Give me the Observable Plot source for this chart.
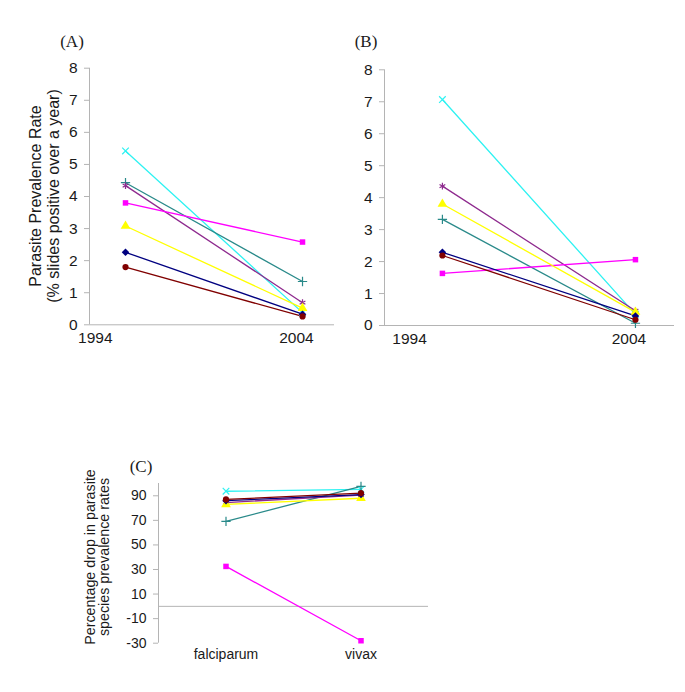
<!DOCTYPE html>
<html>
<head>
<meta charset="utf-8">
<script src="https://cdn.jsdelivr.net/npm/d3@7"></script>
<script src="https://cdn.jsdelivr.net/npm/@observablehq/plot@0.6"></script>
<style>
  html, body { margin: 0; padding: 0; background: #fff; }
  #wrap { position: relative; width: 685px; height: 692px; overflow: hidden; }
  #wrap svg { position: absolute; overflow: visible; }
</style>
</head>
<body>
<div id="wrap"></div>
<script>
// ---- data ----
const seriesKeys = ["cyan", "teal", "purple", "magenta", "yellow", "blue", "darkred"];
const seriesColors = ["#2ef2f2", "#2a8a8a", "#8e2a8e", "#ff00ff", "#ffff00", "#000080", "#800000"];
const seriesSymbols = ["times", "plus", "asterisk", "square", "triangle", "diamond2", "circle"];
const seriesFilled = [false, false, false, true, true, true, true];

const years = [1995.5, 2004.3];
const yearTicks = [1994, 2004];

// Panel A (falciparum prevalence)
const prevA1995 = [5.42, 4.43, 4.34, 3.80, 3.08, 2.26, 1.80];
const prevA2004 = [0.38, 1.35, 0.69, 2.58, 0.52, 0.33, 0.26];
// Panel B (vivax prevalence)
const prevB1995 = [7.07, 3.32, 4.36, 1.63, 3.80, 2.29, 2.19];
const prevB2004 = [0.35, 0.07, 0.46, 2.06, 0.42, 0.30, 0.18];
// Panel C (percentage drop)
const species = ["falciparum", "vivax"];
const dropFalciparum = [93.7, 69.2, 84.5, 32.5, 83.0, 86.0, 87.0];
const dropVivax = [95.2, 97.7, 90.5, -28.0, 88.0, 91.0, 92.2];

const yTicksAB = [0, 1, 2, 3, 4, 5, 6, 7, 8];
const yTicksC = [-30, -10, 10, 30, 50, 70, 90];

const FONT = "'Liberation Sans', Arial, sans-serif";
const SERIF = "'Liberation Serif', 'Times New Roman', serif";
const AXIS_GRAY = "#b4b4b4";
const TEXT = "#1a1a1a";

function seriesMarks(rows) {
  const marks = [];
  seriesKeys.forEach((k, i) => {
    const d = rows.filter(r => r.s === k);
    marks.push(Plot.line(d, {x: "x", y: "y", stroke: seriesColors[i], strokeWidth: 1.3}));
  });
  seriesKeys.forEach((k, i) => {
    const d = rows.filter(r => r.s === k);
    if (seriesFilled[i]) {
      const sym = seriesSymbols[i];
      marks.push(Plot.dot(d, {x: "x", y: "y", symbol: () => sym, fill: seriesColors[i], stroke: "none",
        r: sym === "triangle" ? 3.6 : sym === "diamond2" ? 3.4 : 3.1}));
    } else {
      marks.push(Plot.dot(d, {x: "x", y: "y", symbol: () => seriesSymbols[i], stroke: seriesColors[i], fill: "none", strokeWidth: 1.2, r: 3.1}));
    }
  });
  return marks;
}

function prevRows(v1995, v2004) {
  const rows = [];
  seriesKeys.forEach((k, i) => {
    rows.push({s: k, x: years[0], y: v1995[i]});
    rows.push({s: k, x: years[1], y: v2004[i]});
  });
  return rows;
}

function prevPanel({width, height, marginLeft, marginRight, marginTop, marginBottom, xDomain, rows}) {
  return Plot.plot({
    width, height, marginLeft, marginRight, marginTop, marginBottom,
    style: {fontFamily: FONT, fontSize: "15.5px", color: TEXT, background: "transparent"},
    x: {domain: xDomain, axis: null},
    y: {domain: [0, 8], axis: null},
    marks: [
      Plot.ruleY([0], {stroke: AXIS_GRAY, strokeWidth: 1}),
      Plot.ruleX([xDomain[0]], {stroke: AXIS_GRAY, strokeWidth: 1}),
      Plot.axisY({ticks: yTicksAB, tickSize: 5, tickPadding: 7, stroke: AXIS_GRAY, fill: TEXT, fontSize: 15.5, tickFormat: d => String(d), label: null}),
      Plot.axisX({ticks: yearTicks, tickSize: 0, tickPadding: 7, tickFormat: d => String(d), fill: TEXT, fontSize: 15.5, label: null}),
      ...seriesMarks(rows)
    ]
  });
}

const wrap = document.getElementById("wrap");

// Panel A
const svgA = prevPanel({
  width: 340, height: 350, marginLeft: 89, marginRight: 6, marginTop: 67.7, marginBottom: 25.7,
  xDomain: [1993.71, 2005.89], rows: prevRows(prevA1995, prevA2004)
});
svgA.style.left = "0px"; svgA.style.top = "0px";
wrap.appendChild(svgA);

// Panel B
const svgB = prevPanel({
  width: 345, height: 350, marginLeft: 44, marginRight: 11, marginTop: 69.3, marginBottom: 25,
  xDomain: [1992.86, 2006.08], rows: prevRows(prevB1995, prevB2004)
});
svgB.style.left = "340px"; svgB.style.top = "0px";
wrap.appendChild(svgB);

// Panel C
const rowsC = [];
seriesKeys.forEach((k, i) => {
  rowsC.push({s: k, x: 0, y: dropFalciparum[i]});
  rowsC.push({s: k, x: 1, y: dropVivax[i]});
});
const svgC = Plot.plot({
  width: 450, height: 250, marginLeft: 158, marginRight: 22, marginTop: 43, marginBottom: 47.3,
  style: {fontFamily: FONT, fontSize: "14px", color: TEXT, background: "transparent"},
  x: {domain: [-0.5, 1.5], axis: null},
  y: {domain: [-30, 100], axis: null},
  marks: [
    Plot.ruleY([0], {stroke: AXIS_GRAY, strokeWidth: 1}),
    Plot.ruleX([-0.5], {stroke: AXIS_GRAY, strokeWidth: 1}),
    Plot.axisY({ticks: yTicksC, tickSize: 5, tickPadding: 7, stroke: AXIS_GRAY, fill: TEXT, fontSize: 14, tickFormat: d => String(d), label: null}),
    Plot.axisX({ticks: [0, 1], tickSize: 0, tickPadding: 6, tickFormat: i => species[i], fill: TEXT, fontSize: 14, label: null}),
    ...seriesMarks(rowsC)
  ]
});
svgC.style.left = "0px"; svgC.style.top = "440px";
wrap.appendChild(svgC);

// ---- labels ----
function addText(svg, x, y, lines, {size, family, rotate = 0, anchor = "middle", lineGap}) {
  const g = d3.select(svg).append("g")
    .attr("transform", `translate(${x},${y}) rotate(${rotate})`)
    .attr("fill", TEXT).attr("font-family", family).attr("font-size", size)
    .attr("text-anchor", anchor);
  lines.forEach((t, i) => {
    g.append("text").attr("x", 0).attr("y", i * lineGap).attr("dy", "0.35em").text(t);
  });
}
addText(svgA, 72, 41, ["(A)"], {size: 17, family: SERIF, lineGap: 0});
addText(svgB, 26, 41, ["(B)"], {size: 17, family: SERIF, lineGap: 0});
addText(svgC, 141, 26, ["(C)"], {size: 17, family: SERIF, lineGap: 0});
addText(svgA, 35, 196, ["Parasite Prevalence Rate", "(% slides positive over a year)"], {size: 16, family: FONT, rotate: -90, lineGap: 18});
addText(svgC, 90, 117, ["Percentage drop in parasite", "species prevalence rates"], {size: 14.3, family: FONT, rotate: -90, lineGap: 14});
</script>
</body>
</html>
